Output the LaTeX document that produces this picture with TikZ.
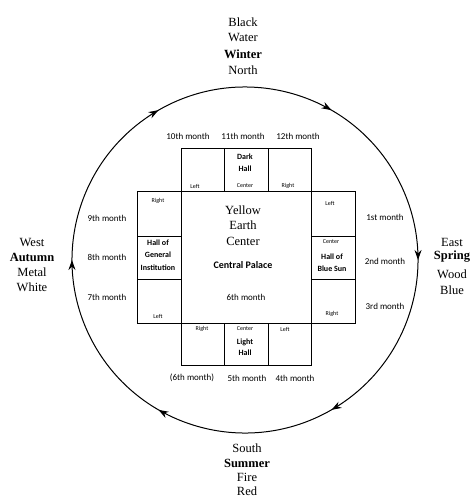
\documentclass[tikz,border=0pt]{standalone}
\usepackage{fontspec}
\setmainfont{Liberation Serif}
\newfontfamily\labfont{Carlito}
\usetikzlibrary{decorations.markings,arrows.meta}
\begin{document}
\begin{tikzpicture}[x=1pt,y=-1pt,
  outer/.style={font=\fontsize{12.5}{14}\selectfont, inner sep=0pt},
  outerb/.style={font=\bfseries\fontsize{12.5}{14}\selectfont, inner sep=0pt},
  month/.style={font=\labfont\fontsize{9}{10}\selectfont, inner sep=0pt},
  tinylab/.style={font=\labfont\fontsize{6}{7}\selectfont, inner sep=0pt},
  hall/.style={font=\labfont\bfseries\fontsize{8}{9}\selectfont, inner sep=0pt},
  palace/.style={font=\labfont\bfseries\fontsize{10}{11}\selectfont, inner sep=0pt},
  boxline/.style={draw, line width=1pt},
  ring/.style={line width=1pt, postaction={decorate},
    decoration={markings, mark=between positions 0.08333 and 1 step 0.16667 with {\arrow{Stealth[length=10pt,width=7pt]}}}}
]
\useasboundingbox (0,0) rectangle (471,498);

% circle with clockwise arrows
\coordinate (cc) at (245,260);
\draw[ring] (cc) ++(30:173pt) arc[start angle=30,end angle=-330,radius=173pt];

% boxes
\draw[boxline] (181,191) rectangle (311,323);
\draw[boxline] (181,148) rectangle (224.5,191);
\draw[boxline] (224.5,148) rectangle (268,191);
\draw[boxline] (268,148) rectangle (311,191);
\draw[boxline] (181,323) rectangle (224.5,365);
\draw[boxline] (224.5,323) rectangle (268,365);
\draw[boxline] (268,323) rectangle (311,365);
\draw[boxline] (137,191) rectangle (181,236);
\draw[boxline] (137,236) rectangle (181,279);
\draw[boxline] (137,279) rectangle (181,323);
\draw[boxline] (311,191) rectangle (355,236);
\draw[boxline] (311,236) rectangle (355,279);
\draw[boxline] (311,279) rectangle (355,323);

% North
\node[outer]  (n1) at (243,22) {Black};
\node[outer]  (n2) at (243,38) {Water};
\node[outerb] (n3) at (243,54) {Winter};
\node[outer]  (n4) at (243,70) {North};
% South
\node[outer]  (s1) at (247,448) {South};
\node[outerb] (s2) at (247,463) {Summer};
\node[outer]  (s3) at (247,477) {Fire};
\node[outer]  (s4) at (247,491) {Red};
% West
\node[outer]  (w1) at (32,242) {West};
\node[outerb] (w2) at (32,257) {Autumn};
\node[outer]  (w3) at (32,272) {Metal};
\node[outer]  (w4) at (32,287) {White};
% East
\node[outer]  (e1) at (452,242) {East};
\node[outerb] (e2) at (452,257) {Spring};
\node[outer]  (e3) at (452,274) {Wood};
\node[outer]  (e4) at (452,290) {Blue};

% months
\node[month] (m10) at (188,136) {10th month};
\node[month] (m11) at (243,136) {11th month};
\node[month] (m12) at (298,136) {12th month};
\node[month] (m9) at (107,218) {9th month};
\node[month] (m8) at (107,257) {8th month};
\node[month] (m7) at (107,297) {7th month};
\node[month] (m1) at (385,217) {1st month};
\node[month] (m2) at (385,261) {2nd month};
\node[month] (m3) at (385,306) {3rd month};
\node[month] (m6b) at (192,378) {(6th month)};
\node[month] (m5) at (247,378) {5th month};
\node[month] (m4) at (295,378) {4th month};

% top row
\node[tinylab] (tl) at (195,186) {Left};
\node[tinylab] (tc) at (245,186) {Center};
\node[tinylab] (tr) at (288,186) {Right};
\node[hall] (dh1) at (245,157) {Dark};
\node[hall] (dh2) at (245,169) {Hall};
% left column
\node[tinylab] (lr) at (158,201) {Right};
\node[hall] (gi1) at (158,243) {Hall of};
\node[hall] (gi2) at (158,255) {General};
\node[hall] (gi3) at (158,268) {Institution};
\node[tinylab] (ll) at (158,316) {Left};
% right column
\node[tinylab] (rl) at (330,203) {Left};
\node[tinylab] (rc) at (331,242) {Center};
\node[hall] (bs1) at (332,257) {Hall of};
\node[hall] (bs2) at (332,269) {Blue Sun};
\node[tinylab] (rr) at (332,314) {Right};
% bottom row
\node[tinylab] (br) at (202,329) {Right};
\node[tinylab] (bc) at (245,329) {Center};
\node[hall] (lh1) at (245,342) {Light};
\node[hall] (lh2) at (245,353) {Hall};
\node[tinylab] (bl) at (285,329) {Left};
% center
\node[outer] (c1) at (243,210) {Yellow};
\node[outer] (c2) at (243,225) {Earth};
\node[outer] (c3) at (243,241) {Center};
\node[palace] (cp) at (243,265) {Central Palace};
\node[month] (c6) at (246,297) {6th month};
\end{tikzpicture}
\end{document}
